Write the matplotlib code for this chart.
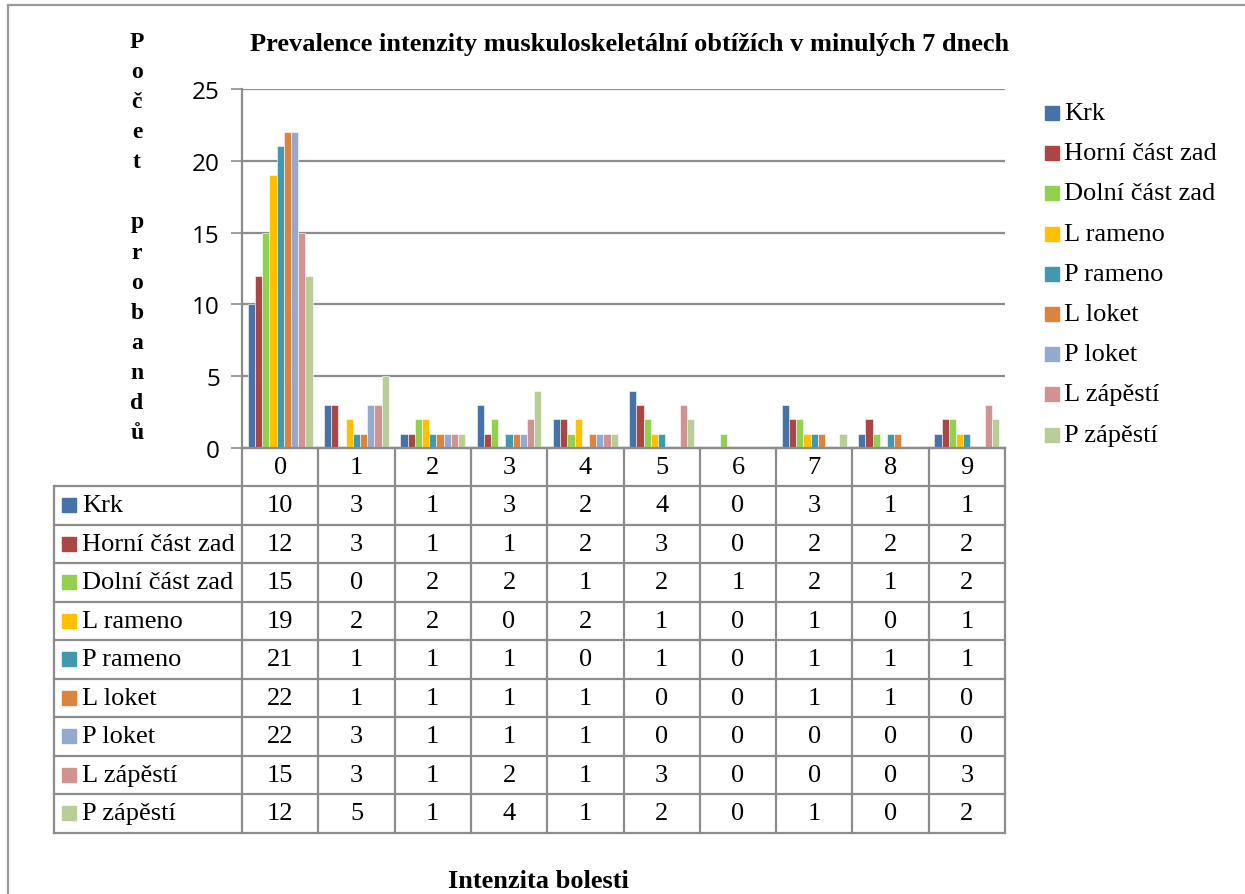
import numpy as np
import matplotlib.pyplot as plt
from matplotlib.lines import Line2D
from matplotlib.patches import Rectangle

# Data
categories = ["0", "1", "2", "3", "4", "5", "6", "7", "8", "9"]
series_names = ["Krk", "Horní část zad", "Dolní část zad", "L rameno", "P rameno",
                "L loket", "P loket", "L zápěstí", "P zápěstí"]
krk = [10, 3, 1, 3, 2, 4, 0, 3, 1, 1]
horni_zada = [12, 3, 1, 1, 2, 3, 0, 2, 2, 2]
dolni_zada = [15, 0, 2, 2, 1, 2, 1, 2, 1, 2]
l_rameno = [19, 2, 2, 0, 2, 1, 0, 1, 0, 1]
p_rameno = [21, 1, 1, 1, 0, 1, 0, 1, 1, 1]
l_loket = [22, 1, 1, 1, 1, 0, 0, 1, 1, 0]
p_loket = [22, 3, 1, 1, 1, 0, 0, 0, 0, 0]
l_zapesti = [15, 3, 1, 2, 1, 3, 0, 0, 0, 3]
p_zapesti = [12, 5, 1, 4, 1, 2, 0, 1, 0, 2]
series = [krk, horni_zada, dolni_zada, l_rameno, p_rameno,
          l_loket, p_loket, l_zapesti, p_zapesti]
colors = ["#4572A7", "#AA4643", "#92D050", "#FFC000", "#4198AF",
          "#DB843D", "#93A9CF", "#D19392", "#B9CD96"]

W, H = 1245, 895
serif = "Liberation Serif"
grid_col = "#8c8c8c"
fs = 19

fig = plt.figure(figsize=(W / 100, H / 100), dpi=100)


def fx(px):
    return px / W


def fy(py):
    return 1 - py / H


# plot area in pixels
left, right, top, bottom = 242, 1005, 90, 449
ax = fig.add_axes([fx(left), fy(bottom), fx(right - left), fy(top) - fy(bottom)])

n = len(series)
x = np.arange(len(categories))
group = 0.85
bw = group / n
for i, (vals, c) in enumerate(zip(series, colors)):
    ax.bar(x + (i - (n - 1) / 2) * bw + 0.5, vals, width=bw, color=c,
           edgecolor="white", linewidth=0.4, zorder=3)

ax.set_xlim(0, len(categories))
ax.set_ylim(0, 25)
ax.set_yticks(range(0, 26, 5))
ax.yaxis.grid(True, color=grid_col, linewidth=1.6, zorder=0)
ax.set_xticks([])
ax.tick_params(axis="y", length=8, width=1.2, color=grid_col, labelsize=17.5,
               pad=8, labelcolor="black")
for lab in ax.get_yticklabels():
    lab.set_fontfamily("Open Sans")
for s in ["top", "right"]:
    ax.spines[s].set_visible(False)
for s in ["left", "bottom"]:
    ax.spines[s].set_color(grid_col)
    ax.spines[s].set_linewidth(1.6)

# data table under the axis
row0 = 449
head_h = 38
row_h = 38.5
tab_left = 54
cw = (right - left) / len(categories)
tab_bottom = row0 + head_h + row_h * n
lw = 1.6


def hline(x0, x1, y, col=grid_col):
    fig.add_artist(Line2D([fx(x0), fx(x1)], [fy(y), fy(y)], color=col, lw=lw))


def vline(xp, y0, y1, col=grid_col):
    fig.add_artist(Line2D([fx(xp), fx(xp)], [fy(y0), fy(y1)], color=col, lw=lw))


for k in range(n + 1):
    hline(tab_left, right, row0 + head_h + k * row_h)
hline(left, right, row0)
for j in range(len(categories) + 1):
    vline(left + j * cw, row0, tab_bottom)
vline(tab_left, row0 + head_h, tab_bottom)

for j, cat in enumerate(categories):
    fig.text(fx(left + (j + 0.5) * cw), fy(row0 + head_h / 2), cat,
             ha="center", va="center", fontsize=fs, family=serif)

for i, (name, vals, c) in enumerate(zip(series_names, series, colors)):
    yc = row0 + head_h + (i + 0.5) * row_h
    fig.add_artist(Rectangle((fx(62), fy(yc + 7)), fx(14), fy(yc - 7) - fy(yc + 7),
                             color=c, transform=fig.transFigure))
    fig.text(fx(82), fy(yc), name, ha="left", va="center", fontsize=fs, family=serif)
    for j, v in enumerate(vals):
        fig.text(fx(left + (j + 0.5) * cw), fy(yc), str(v),
                 ha="center", va="center", fontsize=fs, family=serif)

# legend on the right
for i, (name, c) in enumerate(zip(series_names, colors)):
    yc = 114 + i * 40.2
    fig.add_artist(Rectangle((fx(1045), fy(yc + 7)), fx(14), fy(yc - 7) - fy(yc + 7),
                             color=c, transform=fig.transFigure))
    fig.text(fx(1064), fy(yc), name, ha="left", va="center", fontsize=fs, family=serif)

# titles
fig.text(fx(630), fy(44), "Prevalence intenzity muskuloskeletální obtížích v minulých 7 dnech",
         ha="center", va="center", fontsize=19, fontweight="bold", family=serif)
fig.text(fx(538), fy(882), "Intenzita bolesti", ha="center", va="center",
         fontsize=19, fontweight="bold", family=serif)
fig.text(fx(137), fy(238), "\n".join("Počet probandů"), ha="center", va="center",
         fontsize=17, fontweight="bold", family=serif, linespacing=1.57)

# outer frame (top and left edges fall inside the image)
hline(8, W + 5, 6, col="#9a9a9a")
vline(8, 6, H + 5, col="#9a9a9a")

fig.savefig("out.png", dpi=100)
